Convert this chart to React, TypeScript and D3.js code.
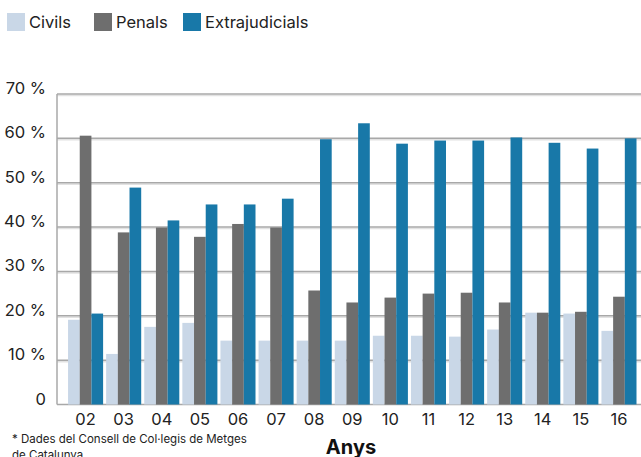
import React from "react";
import * as d3 from "d3";

const years = ["02","03","04","05","06","07","08","09","10","11","12","13","14","15","16"];
const civils = [19.1,11.4,17.5,18.4,14.4,14.4,14.4,14.4,15.5,15.5,15.3,16.9,20.7,20.5,16.6];
const penals = [60.6,38.8,39.9,37.8,40.7,39.9,25.7,23.0,24.1,25.0,25.2,23.0,20.7,20.9,24.3];
const extrajudicials = [20.5,48.9,41.5,45.1,45.1,46.4,59.8,63.4,58.8,59.5,59.5,60.2,59.0,57.7,60.0];
const seriesNames = ["Civils","Penals","Extrajudicials"];
const yTicks = [0,10,20,30,40,50,60,70];
const colors = ["#c9d7e7","#6e6e6e","#1878a8"];

const W = 641, H = 457;
const left = 57, top = 94, bottom = 404.5;
const font = "Inter, 'Noto Sans', sans-serif";

export default function App() {
  const y = d3.scaleLinear().domain([0,70]).range([bottom, top]);
  const x0 = d3.scaleBand<string>().domain(years).range([left, left + 38.1*15.5]).paddingInner(0.08).paddingOuter(0.29);
  const x1 = d3.scaleBand<string>().domain(seriesNames).range([0, x0.bandwidth()]);
  const data = [civils, penals, extrajudicials];
  const legendX = [7, 94, 183];
  return (
    <svg width={W} height={H} style={{position:"absolute", left:0, top:0}} fontFamily={font}>
      <rect width={W} height={H} fill="#fff" />
      {seriesNames.map((s,i)=>(
        <g key={s}>
          <rect x={legendX[i]} y={13} width={18} height={18} fill={colors[i]} />
          <text x={legendX[i]+22} y={28} fontSize={16.5} fill="#222">{s}</text>
        </g>
      ))}
      {yTicks.map(t=>(
        <g key={t}>
          {t>0 && <line x1={left} x2={W} y1={y(t)+1.5} y2={y(t)+1.5} stroke="#e2e2e2" strokeWidth={1.5} />}
          <line x1={left} x2={W} y1={y(t)} y2={y(t)} stroke="#a8a8a8" strokeWidth={1.5} />
          <text x={46} y={y(t)} textAnchor="end" fontSize={16.5} fill="#222">{t===0?"0":`${t} %`}</text>
        </g>
      ))}
      <line x1={left} x2={left} y1={top} y2={bottom} stroke="#a8a8a8" strokeWidth={1.5} />
      {years.map((yr,j)=>(
        <g key={yr} transform={`translate(${x0(yr)},0)`}>
          {seriesNames.map((s,i)=>(
            <rect key={s} x={x1(s)} y={y(data[i][j])} width={x1.bandwidth()} height={bottom - y(data[i][j])} fill={colors[i]} />
          ))}
          <text x={x0.bandwidth()/2} y={425} textAnchor="middle" fontSize={16.5} fill="#222">{yr}</text>
        </g>
      ))}
      <text x={12} y={443} fontSize={11.5} fill="#222">* Dades del Consell de Col·legis de Metges</text>
      <text x={12} y={459} fontSize={11.5} fill="#222">de Catalunya</text>
      <text x={351} y={454} textAnchor="middle" fontSize={20} fontWeight="bold" fill="#111">Anys</text>
    </svg>
  );
}
